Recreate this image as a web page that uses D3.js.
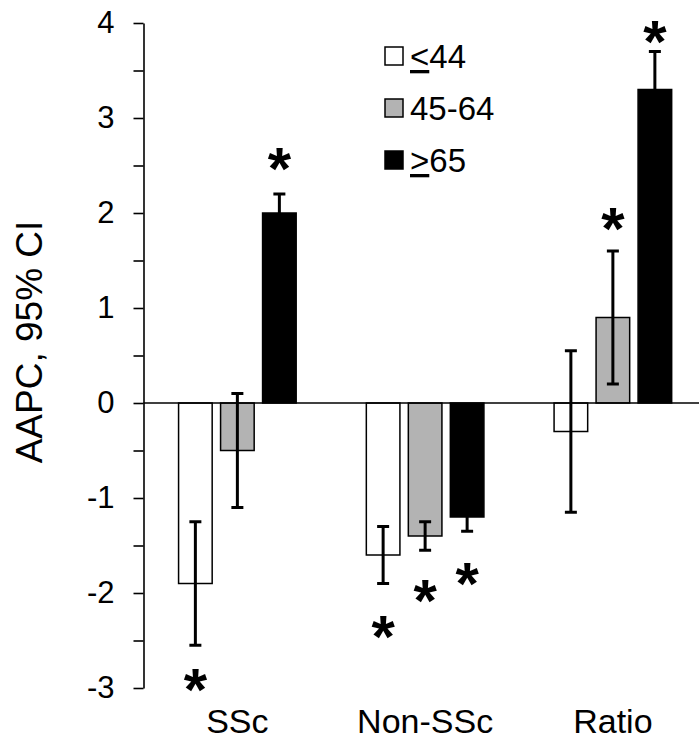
<!DOCTYPE html>
<html lang="en">
<head>
    <meta charset="UTF-8">
    <title>AAPC by age group</title>
    <script src="https://d3js.org/d3.v7.min.js"></script>
    <style>
        body {
            margin: 0;
            padding: 0;
            background: #ffffff;
        }
        svg text {
            font-family: 'Liberation Sans', Arial, sans-serif;
            fill: #000000;
        }
    </style>
</head>
<body>
    <script>
        // values
        const categories = ["SSc", "Non-SSc", "Ratio"];
        const ageGroups = ["≤44", "45-64", "≥65"];
        const groupFills = ["#ffffff", "#b3b3b3", "#000000"];

        const aapc = [
            [-1.9, -0.5, 2.0],
            [-1.6, -1.4, -1.2],
            [-0.3, 0.9, 3.3]
        ];
        const ciLow = [
            [-2.55, -1.1, 1.8],
            [-1.9, -1.55, -1.35],
            [-1.15, 0.2, 2.9]
        ];
        const ciHigh = [
            [-1.25, 0.1, 2.2],
            [-1.3, -1.25, -1.05],
            [0.55, 1.6, 3.7]
        ];
        // where the significance stars sit (in AAPC units), null = none
        const starAt = [
            [-2.9, null, 2.58],
            [-2.34, -1.97, -1.79],
            [null, 1.95, 3.92]
        ];
        const yTicks = d3.range(-3, 4.01, 0.5);

        const width = 699;
        const height = 743;

        const svg = d3.select("body")
            .append("svg")
            .attr("width", width)
            .attr("height", height);

        const y = d3.scaleLinear()
            .domain([-3, 4])
            .range([688, 23]);

        const x0 = d3.scaleBand()
            .domain(categories)
            .range([143.5, 706.75]);

        const x1 = d3.scaleBand()
            .domain(ageGroups)
            .range([-63, 63])
            .paddingInner(0.2)
            .paddingOuter(0.1);

        const color = d3.scaleOrdinal()
            .domain(ageGroups)
            .range(groupFills);

        // flatten into one row per bar
        const rows = [];
        categories.forEach((c, i) => {
            ageGroups.forEach((g, j) => {
                rows.push({
                    cat: c, group: g,
                    value: aapc[i][j], lo: ciLow[i][j], hi: ciHigh[i][j],
                    star: starAt[i][j]
                });
            });
        });

        const cx = d => x0(d.cat) + x0.bandwidth() / 2 + x1(d.group) + x1.bandwidth() / 2;

        // y axis
        const yAxis = svg.append("g")
            .attr("transform", `translate(${x0.range()[0]},0)`)
            .call(d3.axisLeft(y)
                .tickValues(yTicks)
                .tickSize(10)
                .tickSizeOuter(0)
                .tickPadding(19)
                .tickFormat(d => Number.isInteger(d) ? d : ""));
        yAxis.select(".domain").attr("stroke-width", 1.6);
        yAxis.selectAll(".tick line").attr("stroke-width", 1.6);
        yAxis.selectAll(".tick text")
            .attr("font-size", "31px")
            .attr("font-family", "'Liberation Sans', Arial, sans-serif");

        svg.append("text")
            .attr("transform", "translate(42,342) rotate(-90)")
            .attr("text-anchor", "middle")
            .attr("font-size", "37px")
            .text("AAPC, 95% CI");

        // bars
        svg.append("g")
            .selectAll("rect")
            .data(rows)
            .join("rect")
            .attr("x", d => cx(d) - x1.bandwidth() / 2)
            .attr("width", x1.bandwidth())
            .attr("y", d => y(Math.max(0, d.value)))
            .attr("height", d => Math.abs(y(d.value) - y(0)))
            .attr("fill", d => color(d.group))
            .attr("stroke", "#000")
            .attr("stroke-width", 1.5);

        // zero line
        svg.append("line")
            .attr("x1", x0.range()[0])
            .attr("x2", width)
            .attr("y1", y(0))
            .attr("y2", y(0))
            .attr("stroke", "#000")
            .attr("stroke-width", 1.6);

        // error bars
        const err = svg.append("g")
            .attr("stroke", "#000")
            .attr("stroke-width", 3);
        err.selectAll("line.stem")
            .data(rows)
            .join("line")
            .attr("class", "stem")
            .attr("x1", cx).attr("x2", cx)
            .attr("y1", d => y(d.lo))
            .attr("y2", d => y(d.hi));
        err.selectAll("line.cap")
            .data(rows.flatMap(d => [{ d, v: d.lo }, { d, v: d.hi }]))
            .join("line")
            .attr("class", "cap")
            .attr("x1", e => cx(e.d) - 6)
            .attr("x2", e => cx(e.d) + 6)
            .attr("y1", e => y(e.v))
            .attr("y2", e => y(e.v));

        // significance stars
        svg.append("g")
            .selectAll("text")
            .data(rows.filter(d => d.star !== null))
            .join("text")
            .attr("x", cx)
            .attr("y", d => y(d.star))
            .attr("dy", "0.52em")
            .attr("text-anchor", "middle")
            .attr("font-size", "60px")
            .attr("font-weight", "bold")
            .text("*");

        // category labels
        svg.append("g")
            .selectAll("text")
            .data(categories)
            .join("text")
            .attr("x", d => x0(d) + x0.bandwidth() / 2)
            .attr("y", 733)
            .attr("text-anchor", "middle")
            .attr("font-size", "34px")
            .text(d => d);

        // legend
        const legend = svg.append("g")
            .selectAll("g")
            .data(ageGroups)
            .join("g")
            .attr("transform", (d, i) => `translate(385,${56 + i * 52})`);

        legend.append("rect")
            .attr("x", 0)
            .attr("y", -9)
            .attr("width", 18)
            .attr("height", 18)
            .attr("fill", d => color(d))
            .attr("stroke", "#000")
            .attr("stroke-width", 1.5);

        const ltext = legend.append("text")
            .attr("x", 25)
            .attr("y", 12)
            .attr("font-size", "33px");
        // the figure draws ≤ / ≥ as an underlined < / >
        ltext.each(function(d) {
            const t = d3.select(this);
            if (d[0] === "≤" || d[0] === "≥") {
                t.append("tspan")
                    .attr("text-decoration", "underline")
                    .text(d[0] === "≤" ? "<" : ">");
                t.append("tspan").text(d.slice(1));
            } else {
                t.text(d);
            }
        });
    </script>
</body>
</html>
